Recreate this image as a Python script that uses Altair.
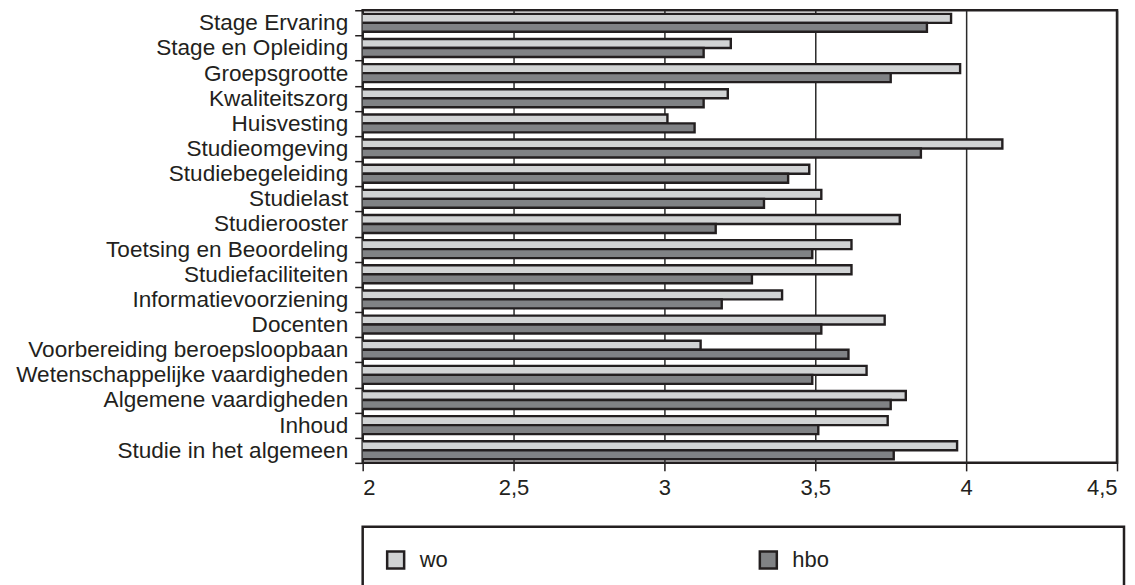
import altair as alt
import pandas as pd

categories = [
    "Stage Ervaring", "Stage en Opleiding", "Groepsgrootte", "Kwaliteitszorg",
    "Huisvesting", "Studieomgeving", "Studiebegeleiding", "Studielast",
    "Studierooster", "Toetsing en Beoordeling", "Studiefaciliteiten",
    "Informatievoorziening", "Docenten", "Voorbereiding beroepsloopbaan",
    "Wetenschappelijke vaardigheden", "Algemene vaardigheden", "Inhoud",
    "Studie in het algemeen",
]
wo = [3.95, 3.22, 3.98, 3.21, 3.01, 4.12, 3.48, 3.52, 3.78, 3.62, 3.62, 3.39,
      3.73, 3.12, 3.67, 3.80, 3.74, 3.97]
hbo = [3.87, 3.13, 3.75, 3.13, 3.10, 3.85, 3.41, 3.33, 3.17, 3.49, 3.29, 3.19,
       3.52, 3.61, 3.49, 3.75, 3.51, 3.76]
series = ["wo", "hbo"]
x_ticks = [2, 2.5, 3, 3.5, 4, 4.5]

rows = []
for c, a, b in zip(categories, wo, hbo):
    rows.append({"cat": c, "grp": "wo", "val": a})
    rows.append({"cat": c, "grp": "hbo", "val": b})
df = pd.DataFrame(rows)

FONT = "Liberation Sans"
INK = "#231f20"
# invisible spacer title that stretches the legend box to the plot's width
spacer = "0" * 49

chart = alt.Chart(df).mark_bar(
    clip=True, stroke=INK, strokeWidth=2.4
).encode(
    y=alt.Y("cat:N", sort=categories, title=None,
            scale=alt.Scale(paddingInner=0, paddingOuter=0),
            axis=alt.Axis(tickBand="extent", labelFont=FONT, labelFontSize=22.6,
                          labelColor=INK, tickColor=INK, tickSize=8,
                          tickWidth=1.5, labelPadding=7, domain=False,
                          labelLimit=400)),
    yOffset=alt.YOffset("grp:N", sort=series,
                        scale=alt.Scale(paddingOuter=0.4, paddingInner=0)),
    x=alt.X("val:Q", title=None,
            scale=alt.Scale(domain=[2, 4.5], zero=False, nice=False),
            axis=alt.Axis(values=x_ticks, grid=True, gridColor="#2a2a2a",
                          gridWidth=1.5, domain=False, tickColor=INK,
                          tickSize=8, tickWidth=1.5, labelFont=FONT,
                          labelFontSize=22, labelColor=INK, labelPadding=7,
                          labelExpr="replace(format(datum.value, '~g'), '.', ',')")),
    color=alt.Color("grp:N", sort=series,
                    scale=alt.Scale(domain=series, range=["#d1d3d4", "#808285"]),
                    legend=alt.Legend(
                        title=spacer, titleOrient="right", titleColor="transparent",
                        titleFont=FONT, titleFontSize=10, titleLimit=2000,
                        titlePadding=0,
                        orient="none", legendX=0, legendY=517,
                        direction="horizontal", columns=2, columnPadding=306,
                        padding=22, strokeColor=INK,
                        symbolType="square", symbolSize=289,
                        symbolStrokeColor=INK, symbolStrokeWidth=2.5,
                        labelFont=FONT, labelFontSize=22, labelColor=INK,
                        labelOffset=13, labelLimit=1000)),
).properties(
    width=755, height=453, background="white",
    autosize=alt.AutoSizeParams(type="none"),
    padding={"left": 355, "top": 2, "right": 10, "bottom": 130},
).configure_view(
    stroke=INK, strokeWidth=2.5
).configure_legend(
    strokeWidth=2.5
)

chart.save("out.html", embed_options={"renderer": "svg", "actions": False})
